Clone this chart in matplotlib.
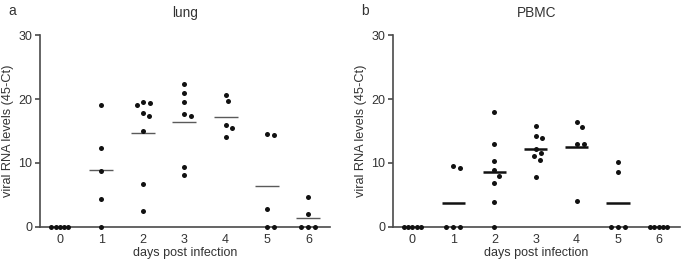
import numpy as np
import matplotlib
matplotlib.use("Agg")
import matplotlib.pyplot as plt

plt.rcParams['font.family'] = ['Liberation Sans', 'DejaVu Sans']

days = [0, 1, 2, 3, 4, 5, 6]
day_labels = ["0", "1", "2", "3", "4", "5", "6"]

lung = {
    0: [0, 0, 0, 0, 0],
    1: [19.0, 12.3, 8.7, 4.4, 0],
    2: [19.6, 19.4, 19.0, 17.8, 17.3, 15.0, 6.7, 2.5],
    3: [22.3, 20.9, 19.6, 17.7, 17.3, 9.3, 8.1],
    4: [20.7, 19.7, 15.9, 15.4, 14.1],
    5: [14.5, 14.4, 2.8, 0, 0],
    6: [4.6, 2.0, 0, 0, 0],
}
pbmc = {
    0: [0, 0, 0, 0, 0],
    1: [9.5, 9.2, 0, 0, 0],
    2: [17.9, 12.9, 10.3, 8.85, 8.0, 6.9, 3.85, 0],
    3: [15.8, 14.2, 13.9, 12.2, 11.5, 11.1, 10.4, 7.8],
    4: [16.4, 15.7, 13.0, 13.0, 4.0],
    5: [10.1, 8.6, 0, 0, 0],
    6: [0, 0, 0, 0, 0],
}

FIG_W, FIG_H, DPI = 6.85, 2.62, 100
AX_Y0, AX_Y1 = 0.134, 0.866
XMIN, XMAX, YMIN, YMAX = -0.48, 6.52, 0, 30


def swarm(vals, px_per_x, px_per_y, d=7.0, half_max=8.6):
    placed = []

    def ok(c, y):
        return all((c - px) ** 2 + (y - py) ** 2 >= d * d - 1e-3 for px, py in placed)

    for v in vals:
        y = v * px_per_y
        cands = [0.0]
        for (px, py) in placed:
            dy = abs(py - y)
            if dy < d:
                dx = np.sqrt(d * d - dy * dy)
                cands += [px + dx + 1e-4, px - dx - 1e-4]
        cands = sorted(cands, key=lambda c: (abs(c), -c))
        chosen = None
        for c in cands:
            if ok(c, y):
                chosen = c
                break
        if chosen is None:
            k = 1
            while chosen is None:
                for c in (k * 0.5, -k * 0.5):
                    if ok(c, y):
                        chosen = c
                        break
                k += 1
        placed.append((chosen, y))
    xs = np.array([p[0] for p in placed])
    m = np.abs(xs).max() if len(xs) else 0
    if m > half_max:
        xs = xs * half_max / m
    return xs / px_per_x


fig = plt.figure(figsize=(FIG_W, FIG_H), dpi=DPI)
panels = [
    (lung, "lung", "a", 40 / 685, 330 / 685, "#5a5a5a", 1.0),
    (pbmc, "PBMC", "b", 392.7 / 685, 680 / 685, "#111111", 1.8),
]
axcol = "#4a4a4a"
txtcol = "#333333"
for data, title, letter, x0, x1, mcol, mlw in panels:
    ax = fig.add_axes([x0, AX_Y0, x1 - x0, AX_Y1 - AX_Y0])
    ax.set_xlim(XMIN, XMAX)
    ax.set_ylim(YMIN, YMAX)
    w_px = (x1 - x0) * FIG_W * DPI
    h_px = (AX_Y1 - AX_Y0) * FIG_H * DPI
    px_per_x = w_px / (XMAX - XMIN)
    px_per_y = h_px / (YMAX - YMIN)
    for dd in days:
        vals = data[dd]
        offs = swarm(vals, px_per_x, px_per_y)
        ax.plot(dd + offs, vals, 'o', color="#111111", ms=3.6, mew=0,
                clip_on=False, zorder=3)
        m = np.mean(vals)
        if m > 0:
            ax.plot([dd - 0.29, dd + 0.29], [m, m], color=mcol, lw=mlw,
                    solid_capstyle='butt', zorder=2)
    for s in ['top', 'right']:
        ax.spines[s].set_visible(False)
    for s in ['left', 'bottom']:
        ax.spines[s].set_color(axcol)
        ax.spines[s].set_linewidth(1.2)
    ax.set_xticks(days)
    ax.set_xticklabels(day_labels)
    ax.set_yticks([0, 10, 20, 30])
    ax.tick_params(axis='x', length=0, pad=5, labelsize=9, colors=txtcol)
    ax.tick_params(axis='y', length=3.5, width=1.2, color=axcol, pad=2,
                   labelsize=9, labelcolor=txtcol)
    ax.set_xlabel("days post infection", fontsize=9, color=txtcol, labelpad=1)
    ax.set_ylabel("viral RNA levels (45-Ct)", fontsize=9.2, color=txtcol, labelpad=3)
    ax.set_title(title, fontsize=9.8, color=txtcol, pad=13)
    fig.text(x0 - 32 / 685, 1 - 11 / 262, letter, fontsize=10, color=txtcol,
             va='center', ha='left')

fig.savefig("out.png", dpi=DPI)
